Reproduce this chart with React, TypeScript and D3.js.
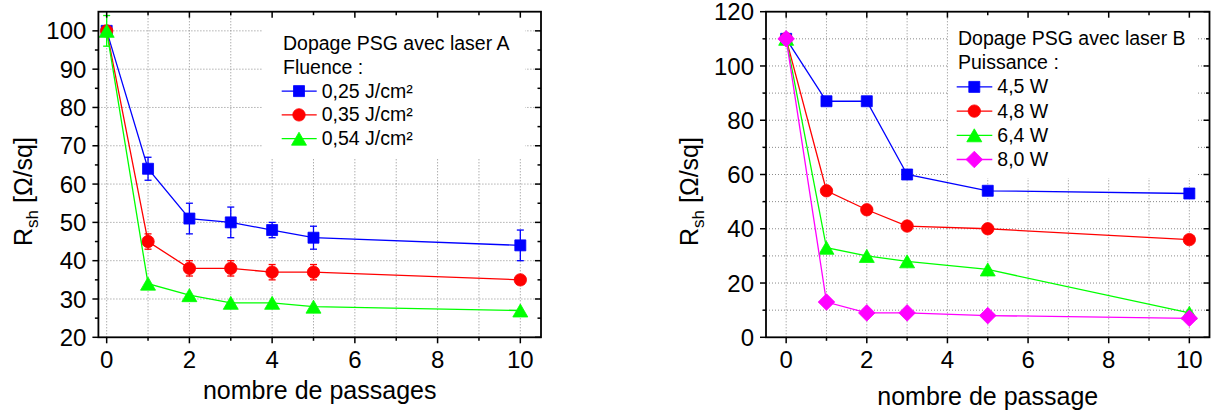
import React from "react";
import * as d3 from "d3";

// ---------- Data: left chart (laser A) ----------
const passagesA = [0, 1, 2, 3, 4, 5, 10];
const rshA025 = [100, 64, 51, 50, 48, 46, 44];
const errA025 = [0, 3, 4, 4, 2, 3, 4];
const rshA035 = [100, 45, 38, 38, 37, 37, 35];
const errA035 = [0, 2, 2, 2, 2, 2, 1];
const rshA054 = [100, 34, 31, 29, 29, 28, 27];
const errA054 = [4, 0, 0, 0, 0, 0, 0];

// ---------- Data: right chart (laser B) ----------
const passagesB = [0, 1, 2, 3, 5, 10];
const rshB45 = [110, 87, 87, 60, 54, 53];
const rshB48 = [110, 54, 47, 41, 40, 36];
const rshB64 = [110, 33, 30, 28, 25, 9];
const rshB80 = [110, 13, 9, 9, 8, 7];

// ---------- Ticks / labels ----------
const xMajorTicks = [0, 2, 4, 6, 8, 10];
const xMinorTicks = [1, 3, 5, 7, 9];
const xGridTicks = [0, 1, 2, 3, 4, 5, 6, 7, 8, 9, 10];
const yMajorA = [20, 30, 40, 50, 60, 70, 80, 90, 100];
const yMinorA = [25, 35, 45, 55, 65, 75, 85, 95];
const yGridA = [30, 40, 50, 60, 70, 80, 90, 100];
const yMajorB = [0, 20, 40, 60, 80, 100, 120];
const yMinorB = [10, 30, 50, 70, 90, 110];
const yGridB = [10, 20, 30, 40, 50, 60, 70, 80, 90, 100, 110];

const legendTitleA = ["Dopage PSG avec laser A", "Fluence :"];
const legendTitleB = ["Dopage PSG avec laser B", "Puissance :"];
const xTitleA = "nombre de passages";
const xTitleB = "nombre de passage";

const FONT = "'Liberation Sans', Arial, Helvetica, sans-serif";

type Shape = "square" | "circle" | "triangle" | "diamond";
interface Series {
  label: string;
  color: string;
  shape: Shape;
  x: number[];
  y: number[];
  err?: number[];
}

const seriesA: Series[] = [
  { label: "0,25 J/cm²", color: "#0000ff", shape: "square", x: passagesA, y: rshA025, err: errA025 },
  { label: "0,35 J/cm²", color: "#ff0000", shape: "circle", x: passagesA, y: rshA035, err: errA035 },
  { label: "0,54 J/cm²", color: "#00ff00", shape: "triangle", x: passagesA, y: rshA054, err: errA054 },
];

const seriesB: Series[] = [
  { label: "4,5 W", color: "#0000ff", shape: "square", x: passagesB, y: rshB45 },
  { label: "4,8 W", color: "#ff0000", shape: "circle", x: passagesB, y: rshB48 },
  { label: "6,4 W", color: "#00ff00", shape: "triangle", x: passagesB, y: rshB64 },
  { label: "8,0 W", color: "#ff00ff", shape: "diamond", x: passagesB, y: rshB80 },
];

function markerPath(shape: Shape, cx: number, cy: number): string {
  const p = d3.path();
  if (shape === "square") {
    const h = 5.5;
    p.rect(cx - h, cy - h, 2 * h, 2 * h);
  } else if (shape === "circle") {
    p.arc(cx, cy, 6.2, 0, Math.PI * 2);
    p.closePath();
  } else if (shape === "triangle") {
    const w = 7.5, h = 6.5;
    p.moveTo(cx, cy - h);
    p.lineTo(cx + w, cy + h);
    p.lineTo(cx - w, cy + h);
    p.closePath();
  } else {
    const r = 8.3;
    p.moveTo(cx, cy - r);
    p.lineTo(cx + r, cy);
    p.lineTo(cx, cy + r);
    p.lineTo(cx - r, cy);
    p.closePath();
  }
  return p.toString();
}

interface PanelProps {
  xDomain: [number, number];
  xRange: [number, number];
  yDomain: [number, number];
  yRange: [number, number];
  yMajor: number[];
  yMinor: number[];
  yGrid: number[];
  series: Series[];
  legendBox: { x0: number; x1: number; y0: number; y1: number };
  legendTitle: string[];
  legendX: number;
  legendY0: number;
  legendDy: number;
  legendSym: { x0: number; x1: number; xm: number; xt: number };
  xTitle: string;
  xTitleY: number;
  yTitleX: number;
  yTitleY: number;
}

function Panel(props: PanelProps) {
  const {
    xDomain, xRange, yDomain, yRange, yMajor, yMinor, yGrid, series,
    legendBox, legendTitle, legendX, legendY0, legendDy, legendSym,
    xTitle, xTitleY, yTitleX, yTitleY,
  } = props;
  const x = d3.scaleLinear().domain(xDomain).range(xRange);
  const y = d3.scaleLinear().domain(yDomain).range(yRange);
  const [xl, xr] = xRange;
  const [yb, yt] = yRange;
  const line = d3.line<[number, number]>().x((d) => x(d[0])).y((d) => y(d[1]));
  const majLen = 6;
  const minLen = 3.5;
  const capHalf = 3.5;

  return (
    <g>
      {/* grid */}
      <g stroke="#8a8a8a" strokeWidth={1} strokeDasharray="1 2">
        {xGridTicks.map((t) => (
          <line key={"gx" + t} x1={x(t)} x2={x(t)} y1={yb} y2={yt} />
        ))}
        {yGrid.map((t) => (
          <line key={"gy" + t} x1={xl} x2={xr} y1={y(t)} y2={y(t)} />
        ))}
      </g>
      {/* legend background */}
      <rect
        x={legendBox.x0}
        y={legendBox.y0}
        width={legendBox.x1 - legendBox.x0}
        height={legendBox.y1 - legendBox.y0}
        fill="#ffffff"
      />
      {/* series */}
      {series.map((s) => {
        const pts = s.x.map((v, i) => [v, s.y[i]] as [number, number]);
        return (
          <g key={s.label}>
            <path d={line(pts) || ""} fill="none" stroke={s.color} strokeWidth={1.3} />
            {s.err &&
              pts.map((p, i) =>
                s.err![i] > 0 ? (
                  <g key={"e" + i} stroke={s.color} strokeWidth={1.3}>
                    <line x1={x(p[0])} x2={x(p[0])} y1={y(p[1] - s.err![i])} y2={y(p[1] + s.err![i])} />
                    <line x1={x(p[0]) - capHalf} x2={x(p[0]) + capHalf} y1={y(p[1] - s.err![i])} y2={y(p[1] - s.err![i])} />
                    <line x1={x(p[0]) - capHalf} x2={x(p[0]) + capHalf} y1={y(p[1] + s.err![i])} y2={y(p[1] + s.err![i])} />
                  </g>
                ) : null
              )}
            {pts.map((p, i) => (
              <path key={"m" + i} d={markerPath(s.shape, x(p[0]), y(p[1]))} fill={s.color} stroke={s.color} strokeWidth={0.8} />
            ))}
          </g>
        );
      })}
      {/* frame */}
      <rect x={xl} y={yt} width={xr - xl} height={yb - yt} fill="none" stroke="#000" strokeWidth={1.8} />
      {/* ticks */}
      <g stroke="#000" strokeWidth={1.5}>
        {xMajorTicks.map((t) => (
          <g key={"xt" + t}>
            <line x1={x(t)} x2={x(t)} y1={yb} y2={yb + majLen} />
            <line x1={x(t)} x2={x(t)} y1={yt} y2={yt + majLen} />
          </g>
        ))}
        {xMinorTicks.map((t) => (
          <g key={"xm" + t}>
            <line x1={x(t)} x2={x(t)} y1={yb} y2={yb + minLen} />
            <line x1={x(t)} x2={x(t)} y1={yt} y2={yt + minLen} />
          </g>
        ))}
        {yMajor.map((t) => (
          <g key={"yt" + t}>
            <line x1={xl - majLen} x2={xl} y1={y(t)} y2={y(t)} />
            <line x1={xr - majLen} x2={xr} y1={y(t)} y2={y(t)} />
          </g>
        ))}
        {yMinor.map((t) => (
          <g key={"ym" + t}>
            <line x1={xl - minLen} x2={xl} y1={y(t)} y2={y(t)} />
            <line x1={xr - minLen} x2={xr} y1={y(t)} y2={y(t)} />
          </g>
        ))}
      </g>
      {/* tick labels */}
      <g fontFamily={FONT} fontSize={24} fill="#000">
        {xMajorTicks.map((t) => (
          <text key={"xl" + t} x={x(t)} y={yb + 31} textAnchor="middle">
            {t}
          </text>
        ))}
        {yMajor.map((t) => (
          <text key={"yl" + t} x={xl - 12} y={y(t)} dy="0.36em" textAnchor="end">
            {t}
          </text>
        ))}
      </g>
      {/* axis titles */}
      <text x={(xl + xr) / 2} y={xTitleY} textAnchor="middle" fontFamily={FONT} fontSize={25}>
        {xTitle}
      </text>
      <text
        transform={`translate(${yTitleX},${yTitleY}) rotate(-90)`}
        textAnchor="middle"
        fontFamily={FONT}
        fontSize={25}
      >
        R<tspan fontSize={17} dy={6}>sh</tspan>
        <tspan dy={-6}>{"  [Ω/sq]"}</tspan>
      </text>
      {/* legend */}
      <g fontFamily={FONT} fontSize={19.5}>
        {legendTitle.map((t, i) => (
          <text key={"lt" + i} x={legendX} y={legendY0 + i * legendDy}>
            {t}
          </text>
        ))}
        {series.map((s, i) => {
          const by = legendY0 + (i + legendTitle.length) * legendDy;
          const cy = by - 6.5;
          return (
            <g key={"le" + i}>
              <line x1={legendSym.x0} x2={legendSym.x1} y1={cy} y2={cy} stroke={s.color} strokeWidth={1.3} />
              <path d={markerPath(s.shape, legendSym.xm, cy)} fill={s.color} stroke={s.color} strokeWidth={0.8} />
              <text x={legendSym.xt} y={by}>
                {s.label}
              </text>
            </g>
          );
        })}
      </g>
    </g>
  );
}

export default function App() {
  return (
    <svg
      width={1211}
      height={414}
      style={{ position: "absolute", left: 0, top: 0, background: "#fff" }}
    >
      <rect x={0} y={0} width={1211} height={414} fill="#fff" />
      <Panel
        xDomain={[-0.2, 10.5]}
        xRange={[98.4, 541]}
        yDomain={[20, 105]}
        yRange={[337.3, 11.7]}
        yMajor={yMajorA}
        yMinor={yMinorA}
        yGrid={yGridA}
        series={seriesA}
        legendBox={{ x0: 263, x1: 525, y0: 12, y1: 159 }}
        legendTitle={legendTitleA}
        legendX={283}
        legendY0={50}
        legendDy={23.8}
        legendSym={{ x0: 281.7, x1: 316.7, xm: 299, xt: 321.7 }}
        xTitle={xTitleA}
        xTitleY={399}
        yTitleX={31.5}
        yTitleY={191.5}
      />
      <Panel
        xDomain={[-0.5, 10.5]}
        xRange={[766, 1209.5]}
        yDomain={[0, 120]}
        yRange={[337.3, 11.7]}
        yMajor={yMajorB}
        yMinor={yMinorB}
        yGrid={yGridB}
        series={seriesB}
        legendBox={{ x0: 948, x1: 1198, y0: 12, y1: 178 }}
        legendTitle={legendTitleB}
        legendX={958}
        legendY0={45}
        legendDy={24.2}
        legendSym={{ x0: 956.7, x1: 992.3, xm: 974.3, xt: 997.3 }}
        xTitle={xTitleB}
        xTitleY={405}
        yTitleX={698}
        yTitleY={191.5}
      />
    </svg>
  );
}
